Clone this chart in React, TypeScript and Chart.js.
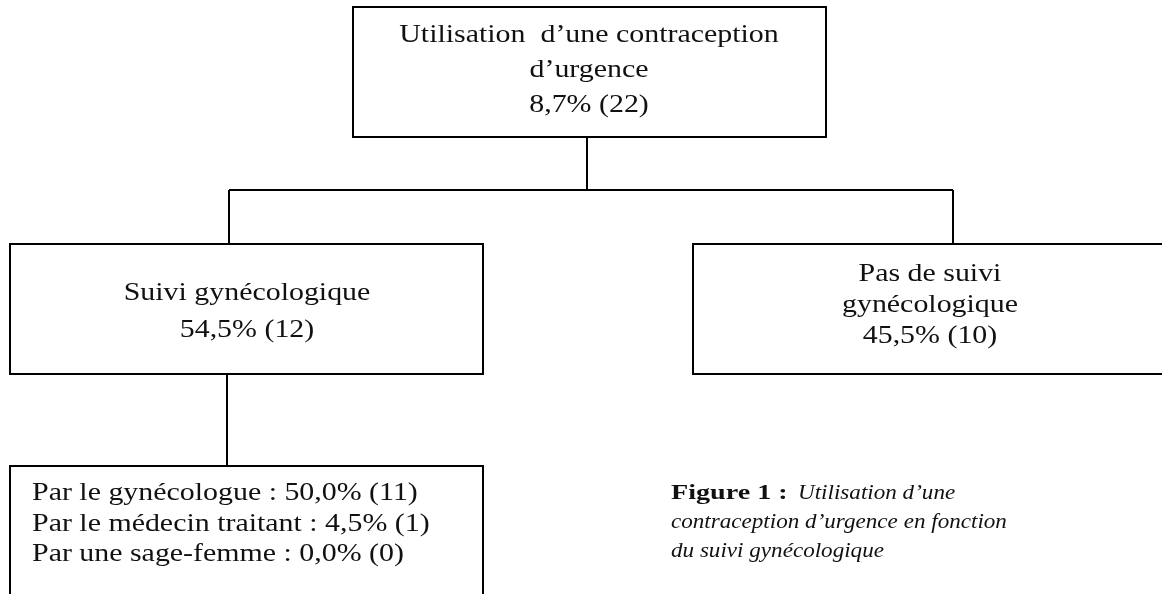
import React, { useEffect, useRef } from "react";
import { Chart, registerables } from "chart.js";

Chart.register(...registerables);

// ---- Data ----
const nodeTitles: string[][] = [
  ["Utilisation  d’une contraception", "d’urgence"],
  ["Suivi gynécologique"],
  ["Pas de suivi", "gynécologique"],
];
const nodePercents: number[] = [8.7, 54.5, 45.5];
const nodeCounts: number[] = [22, 12, 10];

const followLabels: string[] = ["Par le gynécologue", "Par le médecin traitant", "Par une sage-femme"];
const followPercents: number[] = [50.0, 4.5, 0.0];
const followCounts: number[] = [11, 1, 0];

const captionBold = "Figure 1 :";
const captionLines: string[] = ["Utilisation d’une", "contraception d’urgence en fonction", "du suivi gynécologique"];

// ---- Layout (in scale units) ----
const boxes = [
  { x0: 353, x1: 826, y0: 7, y1: 137, cx: 589, base: 42, step: 35 },
  { x0: 10, x1: 483, y0: 244, y1: 374, cx: 247, base: 300, step: 37 },
  { x0: 693, x1: 1175, y0: 244, y1: 374, cx: 930, base: 281, step: 31 },
];
const listBox = { x0: 10, x1: 483, y0: 466, y1: 610, textX: 32, base: 500, step: 30.5 };
const connectors: number[][] = [
  [587, 137, 587, 190],
  [229, 190, 953, 190],
  [229, 190, 229, 244],
  [953, 190, 953, 244],
  [227, 374, 227, 466],
];
const captionPos = { x: 671, italicX: 798, base: 499, step: 29 };

const fmt = (v: number) => v.toFixed(1).replace(".", ",") + "%";
const SERIF = "'Liberation Serif', 'Times New Roman', serif";
const BOX_STRETCH = 1.15;
const CAP_STRETCH = 1.1;
const BOLD_STRETCH = 1.34;

function stretchedText(ctx: any, t: string, x: number, y: number, sx: number) {
  ctx.save();
  ctx.translate(x, y);
  ctx.scale(sx, 1);
  ctx.fillText(t, 0, 0);
  ctx.restore();
}

const treePlugin = {
  id: "tree",
  afterDraw(chart: any) {
    const { ctx } = chart;
    const sx = chart.scales.x;
    const sy = chart.scales.y;
    const X = (v: number) => sx.getPixelForValue(v);
    const Y = (v: number) => sy.getPixelForValue(v);
    ctx.save();
    ctx.strokeStyle = "#000";
    ctx.lineWidth = 2;
    ctx.fillStyle = "#111";
    connectors.forEach(([a, b, c, d]) => {
      ctx.beginPath();
      ctx.moveTo(X(a), Y(b));
      ctx.lineTo(X(c), Y(d));
      ctx.stroke();
    });
    ctx.font = `26px ${SERIF}`;
    ctx.textAlign = "center";
    ctx.textBaseline = "alphabetic";
    boxes.forEach((b, i) => {
      ctx.strokeRect(X(b.x0), Y(b.y0), X(b.x1) - X(b.x0), Y(b.y1) - Y(b.y0));
      const lines = [...nodeTitles[i], `${fmt(nodePercents[i])} (${nodeCounts[i]})`];
      lines.forEach((t, k) => stretchedText(ctx, t, X(b.cx), Y(b.base + k * b.step), BOX_STRETCH));
    });
    ctx.strokeRect(X(listBox.x0), Y(listBox.y0), X(listBox.x1) - X(listBox.x0), Y(listBox.y1) - Y(listBox.y0));
    ctx.textAlign = "left";
    followLabels.forEach((l, k) => {
      stretchedText(ctx, `${l} : ${fmt(followPercents[k])} (${followCounts[k]})`, X(listBox.textX), Y(listBox.base + k * listBox.step), BOX_STRETCH);
    });
    ctx.font = `bold 21px ${SERIF}`;
    stretchedText(ctx, captionBold, X(captionPos.x), Y(captionPos.base), BOLD_STRETCH);
    ctx.font = `italic 21px ${SERIF}`;
    captionLines.forEach((t, k) => {
      const x = k === 0 ? X(captionPos.italicX) : X(captionPos.x);
      stretchedText(ctx, t, x, Y(captionPos.base + k * captionPos.step), CAP_STRETCH);
    });
    ctx.restore();
  },
};

export default function App() {
  const ref = useRef<HTMLCanvasElement | null>(null);
  useEffect(() => {
    if (!ref.current) return;
    const chart = new Chart(ref.current, {
      type: "scatter",
      data: {
        datasets: [
          {
            data: boxes.map((b) => ({ x: b.cx, y: (b.y0 + b.y1) / 2 })),
            pointRadius: 0,
          },
        ],
      },
      options: {
        animation: false,
        responsive: true,
        maintainAspectRatio: false,
        layout: { padding: 0 },
        plugins: { legend: { display: false }, tooltip: { enabled: false } },
        scales: {
          x: { type: "linear", min: 0, max: 1162, display: false },
          y: { type: "linear", min: 0, max: 594, reverse: true, display: false },
        },
      },
      plugins: [treePlugin],
    });
    return () => chart.destroy();
  }, []);
  return (
    <div style={{ position: "absolute", left: 0, top: 0, width: 1162, height: 594, background: "#fff" }}>
      <canvas ref={ref} />
    </div>
  );
}
